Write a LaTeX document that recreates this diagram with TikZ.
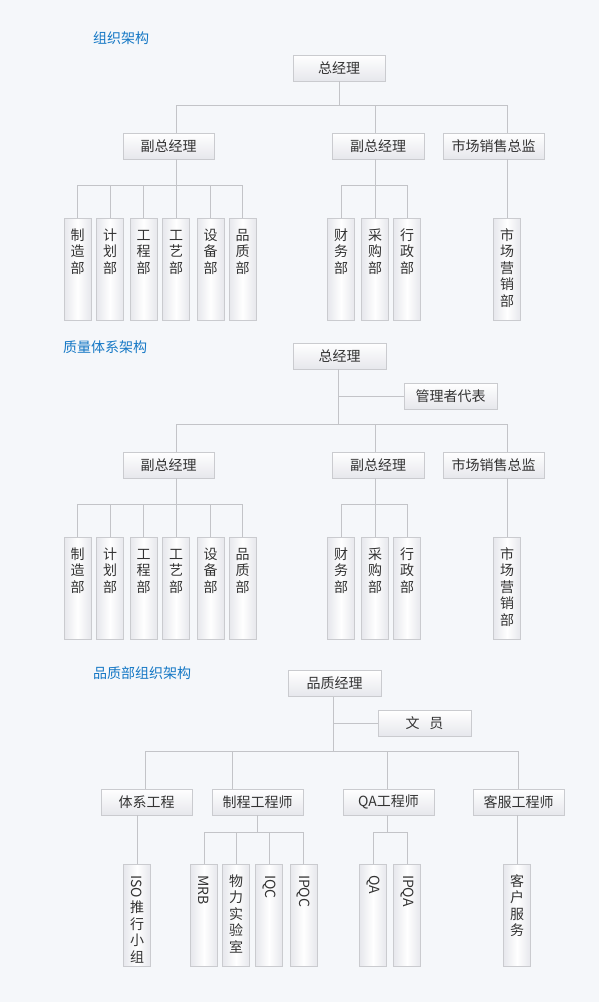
\documentclass[tikz,border=0pt]{standalone}
\usepackage{fontspec}
\setmainfont{Noto Sans CJK SC}
\definecolor{bg}{HTML}{F5F7FA}
\definecolor{bordercol}{HTML}{CACBCF}
\definecolor{linecol}{HTML}{C3C4C8}
\definecolor{boxbot}{HTML}{E6E7EC}
\definecolor{txt}{HTML}{333333}
\definecolor{ttl}{HTML}{1578C5}
\newcommand\vlines[1]{\parbox[c][102pt][t]{27pt}{\fontsize{14pt}{16.5pt}\selectfont\centering\lineskiplimit=0pt\lineskip=3pt #1\par}}
\tikzset{
  hbox/.style={draw=bordercol, line width=0.8pt, inner sep=0pt, minimum height=26pt,
    top color=white, bottom color=boxbot, text=txt, font=\fontsize{14pt}{16pt}\selectfont},
  vbox/.style={draw=bordercol, line width=0.8pt, inner sep=0pt, minimum width=27pt, minimum height=102pt,
    left color=boxbot, right color=boxbot, middle color=white, text=txt},
  conn/.style={draw=linecol, line width=0.9pt},
  ttlstyle/.style={text=ttl, font=\fontsize{14pt}{16pt}\selectfont, inner sep=0pt, anchor=west}
}
\begin{document}
\begin{tikzpicture}[x=1pt,y=-1pt]
\fill[bg] (0,0) rectangle (599,1002);
\useasboundingbox (0,0) rectangle (599,1002);

%% ---------------- Section 1 ----------------
\node[ttlstyle] (t1) at (93,38) {组织架构};
\node[hbox, minimum width=92pt] (zj1) at (339,68) {总经理};
\node[hbox, minimum width=91pt] (fz1a) at (168.5,146) {副总经理};
\node[hbox, minimum width=92pt] (fz1b) at (378,146) {副总经理};
\node[hbox, minimum width=101pt] (sc1) at (493.5,146) {市场销售总监};
\node[vbox] (a1) at (77.5,269) {\vlines{\rule{0pt}{22pt}制\\造\\部}};
\node[vbox] (a2) at (110,269) {\vlines{\rule{0pt}{22pt}计\\划\\部}};
\node[vbox] (a3) at (143.5,269) {\vlines{\rule{0pt}{22pt}工\\程\\部}};
\node[vbox] (a4) at (176,269) {\vlines{\rule{0pt}{22pt}工\\艺\\部}};
\node[vbox] (a5) at (210.5,269) {\vlines{\rule{0pt}{22pt}设\\备\\部}};
\node[vbox] (a6) at (242.5,269) {\vlines{\rule{0pt}{22pt}品\\质\\部}};
\node[vbox] (b1) at (341,269) {\vlines{\rule{0pt}{22pt}财\\务\\部}};
\node[vbox] (b2) at (375,269) {\vlines{\rule{0pt}{22pt}采\\购\\部}};
\node[vbox] (b3) at (407,269) {\vlines{\rule{0pt}{22pt}行\\政\\部}};
\node[vbox] (c1) at (507,269) {\vlines{\rule{0pt}{22pt}市\\场\\营\\销\\部}};

\coordinate (j1) at (338,105);
\coordinate (k1) at (176,185);
\draw[conn] (zj1.south) -- (zj1.south |- j1);
\draw[conn] (a4.north |- j1) -- (c1.north |- j1);
\draw[conn] (a4.north |- j1) -- (a4.north |- fz1a.north);
\draw[conn] (b2.north |- j1) -- (b2.north |- fz1b.north);
\draw[conn] (c1.north |- j1) -- (c1.north |- sc1.north);
\draw[conn] (a4.north |- fz1a.south) -- (a4.north);
\draw[conn] (a1.north |- k1) -- (a6.north |- k1);
\foreach \n in {a1,a2,a3,a5,a6} \draw[conn] (\n.north |- k1) -- (\n.north);
\draw[conn] (b2.north |- fz1b.south) -- (b2.north);
\draw[conn] (b1.north |- k1) -- (b3.north |- k1);
\foreach \n in {b1,b3} \draw[conn] (\n.north |- k1) -- (\n.north);
\draw[conn] (c1.north |- sc1.south) -- (c1.north);

%% ---------------- Section 2 ----------------
\node[ttlstyle] (t2) at (63,347) {质量体系架构};
\node[hbox, minimum width=93pt] (zj2) at (339.5,356) {总经理};
\node[hbox, minimum width=93pt] (gd) at (450.5,396) {管理者代表};
\node[hbox, minimum width=91pt] (fz2a) at (168.5,465) {副总经理};
\node[hbox, minimum width=92pt] (fz2b) at (378,465) {副总经理};
\node[hbox, minimum width=101pt] (sc2) at (493.5,465) {市场销售总监};
\node[vbox] (p1) at (77.5,588) {\vlines{\rule{0pt}{22pt}制\\造\\部}};
\node[vbox] (p2) at (110,588) {\vlines{\rule{0pt}{22pt}计\\划\\部}};
\node[vbox] (p3) at (143.5,588) {\vlines{\rule{0pt}{22pt}工\\程\\部}};
\node[vbox] (p4) at (176,588) {\vlines{\rule{0pt}{22pt}工\\艺\\部}};
\node[vbox] (p5) at (210.5,588) {\vlines{\rule{0pt}{22pt}设\\备\\部}};
\node[vbox] (p6) at (242.5,588) {\vlines{\rule{0pt}{22pt}品\\质\\部}};
\node[vbox] (q1) at (341,588) {\vlines{\rule{0pt}{22pt}财\\务\\部}};
\node[vbox] (q2) at (375,588) {\vlines{\rule{0pt}{22pt}采\\购\\部}};
\node[vbox] (q3) at (407,588) {\vlines{\rule{0pt}{22pt}行\\政\\部}};
\node[vbox] (r1) at (507,588) {\vlines{\rule{0pt}{22pt}市\\场\\营\\销\\部}};

\coordinate (j2) at (338,424);
\coordinate (k2) at (176,504);
\draw[conn] (zj2.south -| j2) -- (j2);
\draw[conn] (j2 |- gd.west) -- (gd.west);
\draw[conn] (p4.north |- j2) -- (r1.north |- j2);
\draw[conn] (p4.north |- j2) -- (p4.north |- fz2a.north);
\draw[conn] (q2.north |- j2) -- (q2.north |- fz2b.north);
\draw[conn] (r1.north |- j2) -- (r1.north |- sc2.north);
\draw[conn] (p4.north |- fz2a.south) -- (p4.north);
\draw[conn] (p1.north |- k2) -- (p6.north |- k2);
\foreach \n in {p1,p2,p3,p5,p6} \draw[conn] (\n.north |- k2) -- (\n.north);
\draw[conn] (q2.north |- fz2b.south) -- (q2.north);
\draw[conn] (q1.north |- k2) -- (q3.north |- k2);
\foreach \n in {q1,q3} \draw[conn] (\n.north |- k2) -- (\n.north);
\draw[conn] (r1.north |- sc2.south) -- (r1.north);

%% ---------------- Section 3 ----------------
\node[ttlstyle] (t3) at (93,673) {品质部组织架构};
\node[hbox, minimum width=93pt] (pz) at (334.5,683.5) {品质经理};
\node[hbox, minimum width=93pt] (wy) at (424.5,723.5) {文\hspace{10pt}员};
\node[hbox, minimum width=91pt] (tx) at (146.5,802) {体系工程};
\node[hbox, minimum width=91pt] (zc) at (257.5,802) {制程工程师};
\node[hbox, minimum width=91pt] (qa) at (388.5,802) {QA工程师};
\node[hbox, minimum width=91pt] (kf) at (518.5,802) {客服工程师};
\node[vbox] (iso) at (137,915) {\vlines{\rule{0pt}{11pt}\rotatebox{-90}{ISO}\\推\\行\\小\\组}};
\node[vbox] (mrb) at (204,915) {\vlines{\rule{0pt}{11pt}\rotatebox{-90}{MRB}}};
\node[vbox] (wl) at (236,915) {\vlines{\rule{0pt}{22pt}物\\力\\实\\验\\室}};
\node[vbox] (iqc) at (269,915) {\vlines{\rule{0pt}{11pt}\rotatebox{-90}{IQC}}};
\node[vbox] (ipqc) at (303.5,915) {\vlines{\rule{0pt}{11pt}\rotatebox{-90}{IPQC}}};
\node[vbox] (qa2) at (373,915) {\vlines{\rule{0pt}{11pt}\rotatebox{-90}{QA}}};
\node[vbox] (ipqa) at (407,915) {\vlines{\rule{0pt}{11pt}\rotatebox{-90}{IPQA}}};
\node[vbox] (kh) at (517,915) {\vlines{\rule{0pt}{22pt}客\\户\\服\\务}};

\coordinate (j3) at (333,751);
\coordinate (k3) at (257.5,832);
\draw[conn] (j3 |- pz.south) -- (j3);
\draw[conn] (j3 |- wy.west) -- (wy.west);
\draw[conn] ([xshift=-1.5pt]tx.north |- j3) -- ([xshift=-0.5pt]kf.north |- j3);
\draw[conn] ([xshift=-1.5pt]tx.north |- j3) -- ([xshift=-1.5pt]tx.north);
\draw[conn] ([xshift=-25.5pt]zc.north |- j3) -- ([xshift=-25.5pt]zc.north);
\draw[conn] ([xshift=-1.5pt]qa.north |- j3) -- ([xshift=-1.5pt]qa.north);
\draw[conn] ([xshift=-0.5pt]kf.north |- j3) -- ([xshift=-0.5pt]kf.north);
\draw[conn] (iso.north |- tx.south) -- (iso.north);
\draw[conn] (zc.south) -- (zc.south |- k3);
\draw[conn] (mrb.north |- k3) -- (ipqc.north |- k3);
\foreach \n in {mrb,wl,iqc,ipqc} \draw[conn] (\n.north |- k3) -- (\n.north);
\draw[conn] ([xshift=-1.5pt]qa.south) -- ([xshift=-1.5pt]qa.south |- k3);
\draw[conn] (qa2.north |- k3) -- (ipqa.north |- k3);
\foreach \n in {qa2,ipqa} \draw[conn] (\n.north |- k3) -- (\n.north);
\draw[conn] (kh.north |- kf.south) -- (kh.north);
\end{tikzpicture}
\end{document}
